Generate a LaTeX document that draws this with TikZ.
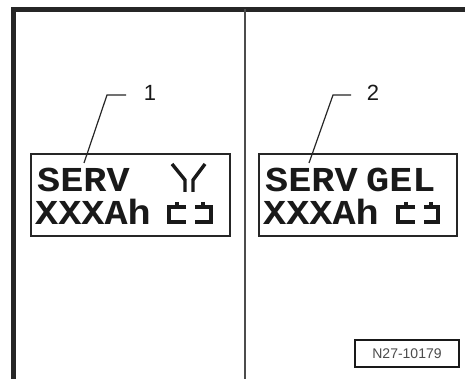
\documentclass[tikz,border=0pt]{standalone}
\usepackage{fontspec}
\setmainfont{Liberation Sans}
\newfontfamily\lcdfont{Liberation Mono}
\tikzset{
  frame/.style={line width=4.6pt,black!85},
  lcdbox/.style={draw=black!85,line width=1.4pt,inner sep=0pt,fill=white},
  lcdtext/.style={font=\lcdfont\bfseries\fontsize{35}{35}\selectfont,xscale=1.1,inner sep=0pt,anchor=base west,text=black!90},
  leader/.style={line width=1.2pt,black!85},
  calloutnum/.style={font=\fontsize{22}{22}\selectfont,inner sep=0pt,text=black!90},
  icon/.style={line width=3.4pt,black!90},
  refbox/.style={draw=black!90,line width=1.5pt,inner sep=0pt,minimum width=104pt,minimum height=27pt,font=\fontsize{14}{14}\selectfont,text=black!70}
}
\begin{document}
\begin{tikzpicture}[x=1pt,y=-1pt]
\useasboundingbox (0,0) rectangle (465,379);
\fill[white] (0,0) rectangle (465,379);
% outer frame
\draw[frame] (13.5,379) -- (13.5,9.5) -- (465,9.5);
\draw[black!70,line width=2pt] (244.5,9.5) -- (244.5,379);
% displays
\node[lcdbox,minimum width=199pt,minimum height=82pt] (d1) at (130.5,195) {};
\node[lcdbox,minimum width=198pt,minimum height=82pt] (d2) at (358,195) {};
% display 1
\node[lcdtext] (s1) at (37,192) {SERV};
\node[lcdtext] (x1) at (35,225) {XXXAh};
\draw[icon] (172,164) -- (185,180) -- (185,192) (205,164) -- (193,180) -- (193,192);
\draw[icon] (186,207) -- (169,207) -- (169,222) -- (186,222) (177,202) -- (177,207)
            (195,207) -- (211,207) -- (211,222) -- (195,222) (203,202) -- (203,207);
% display 2
\node[lcdtext] (s2) at (265,192) {SERV};
\node[lcdtext] (g2) at (366,192) {GEL};
\node[lcdtext] (x2) at (263,225) {XXXAh};
\draw[icon] (415,207) -- (398,207) -- (398,222) -- (415,222) (406,202) -- (406,207)
            (424,207) -- (438,207) -- (438,222) -- (424,222) (431,202) -- (431,207);
% callouts
\node[calloutnum] (n1) at (150,93) {1};
\node[calloutnum] (n2) at (373,93) {2};
\coordinate (t1) at (84,163);
\coordinate (t2) at (309,163);
\coordinate (e1) at (126,95);
\coordinate (e2) at (351,95);
\draw[leader] (t1) -- (107,95) -- (e1);
\draw[leader] (t2) -- (333,95) -- (e2);
% reference
\node[refbox] (ref) at (407,353.5) {N27-10179};
\end{tikzpicture}
\end{document}
